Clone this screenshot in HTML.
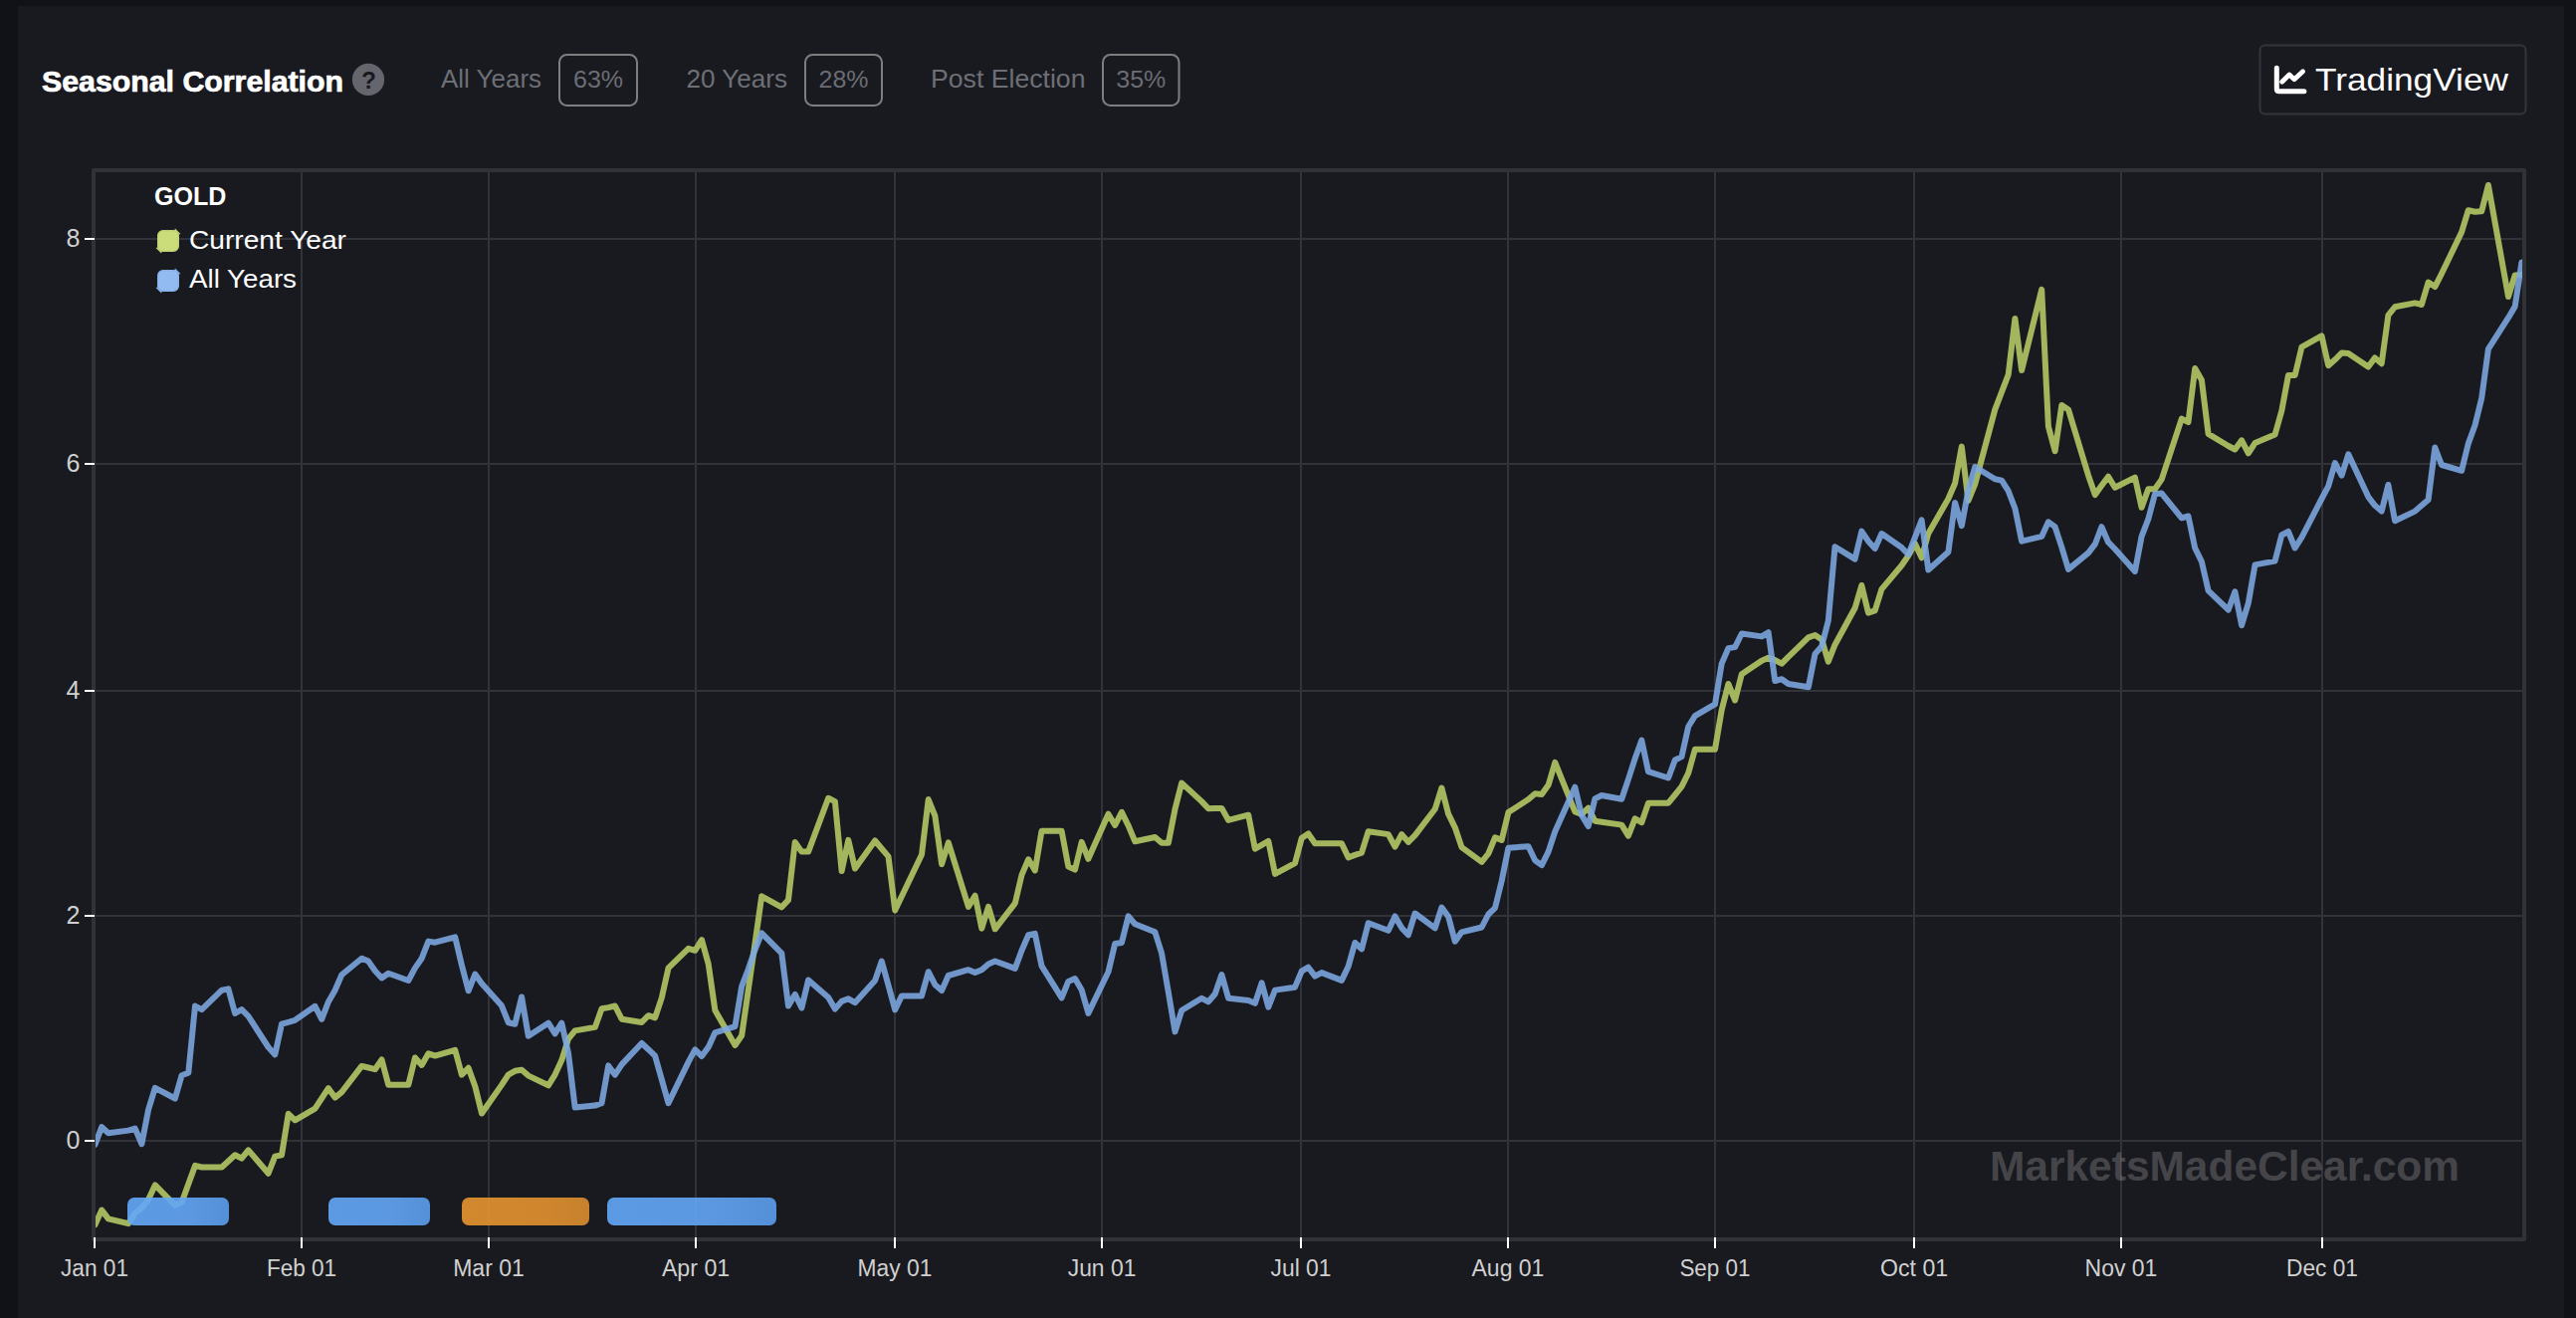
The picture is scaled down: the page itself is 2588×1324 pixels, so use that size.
<!DOCTYPE html>
<html><head><meta charset="utf-8"><title>Seasonal Correlation</title>
<style>html,body{margin:0;padding:0;background:#111217;overflow:hidden}svg{display:block}text{font-family:"Liberation Sans",sans-serif}</style>
</head><body>
<svg width="2588" height="1324" viewBox="0 0 2588 1324">
<rect x="0" y="0" width="2588" height="1324" fill="#111217"/>
<rect x="18" y="6" width="2558" height="1318" fill="#191a1f"/>
<text x="42" y="92" font-size="30" font-weight="bold" fill="#ffffff" stroke="#ffffff" stroke-width="0.7" textLength="303" lengthAdjust="spacingAndGlyphs">Seasonal Correlation</text>
<circle cx="370" cy="79.9" r="16.1" fill="#64656d"/>
<text x="370.5" y="89.2" font-size="24" font-weight="bold" fill="#191a1f" text-anchor="middle">?</text>
<text x="443" y="88.2" font-size="25" fill="#6d6f76" textLength="101" lengthAdjust="spacingAndGlyphs">All Years</text>
<rect x="562" y="55" width="78" height="51" rx="7.5" ry="7.5" fill="none" stroke="#7e7e80" stroke-width="2"/>
<text x="601.0" y="88" font-size="24" fill="#6b6d74" text-anchor="middle" textLength="50" lengthAdjust="spacingAndGlyphs">63%</text>
<text x="689.5" y="88.2" font-size="25" fill="#6d6f76" textLength="101.5" lengthAdjust="spacingAndGlyphs">20 Years</text>
<rect x="809" y="55" width="77" height="51" rx="7.5" ry="7.5" fill="none" stroke="#7e7e80" stroke-width="2"/>
<text x="847.5" y="88" font-size="24" fill="#6b6d74" text-anchor="middle" textLength="50" lengthAdjust="spacingAndGlyphs">28%</text>
<text x="935" y="88.2" font-size="25" fill="#6d6f76" textLength="155.5" lengthAdjust="spacingAndGlyphs">Post Election</text>
<rect x="1108" y="55" width="76.5" height="51" rx="7.5" ry="7.5" fill="none" stroke="#7e7e80" stroke-width="2"/>
<text x="1146.25" y="88" font-size="24" fill="#6b6d74" text-anchor="middle" textLength="50" lengthAdjust="spacingAndGlyphs">35%</text>
<rect x="2270.5" y="45.5" width="267" height="69" rx="5" ry="5" fill="none" stroke="#34353b" stroke-width="2"/>
<path d="M2287.3,68.3 V89.3 Q2287.3,91.8 2289.8,91.8 H2314.9" fill="none" stroke="#ffffff" stroke-width="5" stroke-linecap="round" stroke-linejoin="round"/>
<path d="M2292.6,82.2 L2300,75 L2305,79.8 L2313.6,71.8" fill="none" stroke="#ffffff" stroke-width="4.8" stroke-linecap="round" stroke-linejoin="round"/>
<text x="2326" y="91" font-size="32" fill="#ffffff" textLength="194" lengthAdjust="spacingAndGlyphs">TradingView</text>
<rect x="94" y="171" width="2442" height="1074" fill="none" stroke="#313238" stroke-width="4" stroke-linejoin="round"/>
<rect x="302.0" y="173" width="2" height="1070" fill="#323338"/>
<rect x="490.0" y="173" width="2" height="1070" fill="#323338"/>
<rect x="698.0" y="173" width="2" height="1070" fill="#323338"/>
<rect x="898.0" y="173" width="2" height="1070" fill="#323338"/>
<rect x="1106.0" y="173" width="2" height="1070" fill="#323338"/>
<rect x="1306.0" y="173" width="2" height="1070" fill="#323338"/>
<rect x="1514.0" y="173" width="2" height="1070" fill="#323338"/>
<rect x="1722.0" y="173" width="2" height="1070" fill="#323338"/>
<rect x="1922.0" y="173" width="2" height="1070" fill="#323338"/>
<rect x="2130.0" y="173" width="2" height="1070" fill="#323338"/>
<rect x="2332.0" y="173" width="2" height="1070" fill="#323338"/>
<rect x="96" y="1145.0" width="2438" height="2" fill="#323338"/>
<rect x="96" y="919.0" width="2438" height="2" fill="#323338"/>
<rect x="96" y="693.0" width="2438" height="2" fill="#323338"/>
<rect x="96" y="465.0" width="2438" height="2" fill="#323338"/>
<rect x="96" y="239.0" width="2438" height="2" fill="#323338"/>
<text x="1999" y="1186" font-size="43" font-weight="bold" fill="#ffffff" fill-opacity="0.2" textLength="472" lengthAdjust="spacingAndGlyphs">MarketsMadeClear.com</text>
<defs><clipPath id="pc"><rect x="96" y="173" width="2438" height="1070"/></clipPath></defs>
<g clip-path="url(#pc)">
<path d="M95.5,1230.3 L102.2,1215.6 L108.9,1224.4 L129.0,1229.2 L135.7,1218.5 L142.4,1213.3 L149.1,1204.9 L155.8,1190.4 L175.9,1210.8 L182.6,1207.8 L189.3,1189.4 L196.0,1170.9 L202.7,1172.5 L222.8,1172.5 L229.4,1166.5 L236.1,1160.3 L242.8,1163.6 L249.5,1155.4 L269.6,1178.7 L276.3,1161.6 L283.0,1160.3 L289.7,1118.9 L296.4,1125.3 L316.5,1113.6 L323.2,1103.3 L329.9,1093.2 L336.6,1102.6 L343.3,1097.1 L363.4,1070.9 L370.1,1072.5 L376.8,1074.2 L383.5,1064.5 L390.2,1089.7 L410.3,1089.7 L417.0,1062.5 L423.7,1069.9 L430.4,1058.3 L437.1,1060.6 L457.2,1054.8 L463.9,1079.6 L470.6,1072.8 L477.3,1091.3 L484.0,1118.5 L504.0,1089.9 L510.7,1079.6 L517.4,1075.8 L524.1,1074.8 L530.8,1080.6 L550.9,1090.3 L557.6,1079.6 L564.3,1065.1 L571.0,1043.7 L577.7,1035.4 L597.8,1031.9 L604.5,1013.3 L611.2,1012.1 L617.9,1010.5 L624.6,1023.7 L644.7,1027.0 L651.4,1020.2 L658.1,1022.4 L664.8,1002.4 L671.5,972.3 L691.6,952.8 L698.3,954.8 L705.0,944.1 L711.7,968.4 L718.4,1015.0 L738.5,1050.0 L745.2,1040.3 L751.9,993.6 L758.6,947.0 L765.2,900.3 L785.3,911.3 L792.0,904.1 L798.7,845.9 L805.4,855.6 L812.1,855.6 L832.2,801.8 L838.9,805.1 L845.6,875.0 L852.3,843.9 L859.0,872.5 L879.1,844.5 L885.8,852.5 L892.5,860.4 L899.2,914.4 L905.9,900.5 L926.0,858.5 L932.7,803.1 L939.4,819.6 L946.1,868.2 L952.8,846.4 L972.9,910.9 L979.6,899.7 L986.3,932.7 L993.0,910.9 L999.7,933.3 L1019.8,907.4 L1026.5,878.9 L1033.2,863.3 L1039.8,874.4 L1046.5,834.8 L1066.6,834.8 L1073.3,870.5 L1080.0,873.6 L1086.7,845.9 L1093.4,862.8 L1113.5,817.7 L1120.2,829.0 L1126.9,815.8 L1133.6,829.4 L1140.3,845.3 L1160.4,841.0 L1167.1,846.8 L1173.8,846.8 L1180.5,812.8 L1187.2,786.6 L1207.3,805.1 L1214.0,812.3 L1220.7,811.9 L1227.4,811.9 L1234.1,823.9 L1254.2,818.7 L1260.9,852.7 L1267.6,848.8 L1274.3,844.9 L1281.0,877.9 L1301.0,867.2 L1307.7,842.0 L1314.4,837.5 L1321.1,847.2 L1327.8,847.2 L1347.9,847.2 L1354.6,861.4 L1361.3,858.9 L1368.0,856.6 L1374.7,835.2 L1394.8,838.1 L1401.5,850.7 L1408.2,838.1 L1414.9,845.9 L1421.6,839.1 L1441.7,812.8 L1448.4,791.5 L1455.1,817.7 L1461.8,831.3 L1468.5,851.1 L1488.6,865.9 L1495.3,857.5 L1502.0,841.4 L1508.7,843.9 L1515.4,816.1 L1535.5,803.1 L1542.2,797.3 L1548.9,797.9 L1555.6,788.6 L1562.3,765.9 L1582.3,815.5 L1589.0,817.9 L1595.7,811.8 L1602.4,824.7 L1609.1,825.7 L1629.2,828.6 L1635.9,839.6 L1642.6,822.3 L1649.3,826.2 L1656.0,806.7 L1676.1,806.7 L1682.8,798.5 L1689.5,790.2 L1696.2,776.6 L1702.9,752.8 L1723.0,752.8 L1729.7,713.2 L1736.4,687.0 L1743.1,703.5 L1749.8,677.3 L1769.9,663.7 L1776.6,660.8 L1783.3,663.1 L1790.0,666.6 L1796.7,659.8 L1816.8,640.4 L1823.5,638.0 L1830.2,642.4 L1836.8,664.6 L1843.5,647.7 L1863.6,610.8 L1870.3,588.0 L1877.0,615.6 L1883.7,613.3 L1890.4,591.9 L1910.5,568.0 L1917.2,558.3 L1923.9,546.1 L1930.6,560.3 L1937.3,536.0 L1957.4,501.0 L1964.1,485.5 L1970.8,448.6 L1977.5,503.0 L1984.2,486.4 L2004.3,411.4 L2011.0,393.9 L2017.7,376.4 L2024.4,319.9 L2031.1,372.1 L2051.2,290.8 L2057.9,428.4 L2064.6,453.2 L2071.3,407.0 L2078.0,411.4 L2098.1,477.7 L2104.8,497.1 L2111.4,487.8 L2118.1,478.7 L2124.8,489.7 L2144.9,479.6 L2151.6,509.8 L2158.3,491.3 L2165.0,491.3 L2171.7,481.6 L2191.8,420.6 L2198.5,424.1 L2205.2,370.1 L2211.9,381.7 L2218.6,435.9 L2238.7,448.0 L2245.4,451.5 L2252.1,442.3 L2258.8,455.4 L2265.5,445.1 L2285.6,436.5 L2292.3,412.8 L2299.0,376.9 L2305.7,376.9 L2312.4,348.7 L2332.5,337.4 L2339.2,367.2 L2345.9,361.3 L2352.6,354.5 L2359.3,354.9 L2379.3,368.5 L2386.0,359.4 L2392.7,365.2 L2399.4,316.7 L2406.1,308.3 L2426.2,304.4 L2432.9,306.0 L2439.6,283.6 L2446.3,288.1 L2453.0,274.9 L2473.1,233.1 L2479.8,211.2 L2486.5,212.7 L2493.2,212.3 L2499.9,186.0 L2520.0,298.0 L2526.7,276.4 L2533.4,275.9" fill="none" stroke="#a3b65d" stroke-width="6" stroke-linejoin="round" stroke-linecap="round"/>
<path d="M95.5,1149.8 L102.2,1132.1 L108.9,1138.3 L129.0,1135.6 L135.7,1133.6 L142.4,1149.2 L149.1,1114.6 L155.8,1092.8 L175.9,1103.5 L182.6,1080.2 L189.3,1077.7 L196.0,1010.6 L202.7,1014.1 L222.8,994.7 L229.4,993.4 L236.1,1018.0 L242.8,1014.1 L249.5,1020.9 L269.6,1052.0 L276.3,1059.4 L283.0,1028.7 L289.7,1026.8 L296.4,1024.8 L316.5,1010.8 L323.2,1023.9 L329.9,1006.4 L336.6,994.7 L343.3,979.2 L363.4,962.7 L370.1,965.6 L376.8,975.3 L383.5,982.5 L390.2,977.8 L410.3,985.0 L417.0,972.4 L423.7,962.7 L430.4,945.6 L437.1,946.7 L457.2,941.3 L463.9,969.5 L470.6,995.3 L477.3,978.6 L484.0,987.9 L504.0,1010.3 L510.7,1027.2 L517.4,1028.7 L524.1,1001.5 L530.8,1040.8 L550.9,1027.7 L557.6,1038.4 L564.3,1027.7 L571.0,1057.8 L577.7,1112.6 L597.8,1110.6 L604.5,1108.2 L611.2,1070.4 L617.9,1079.7 L624.6,1069.4 L644.7,1048.0 L651.4,1054.2 L658.1,1060.7 L664.8,1084.4 L671.5,1108.2 L691.6,1066.9 L698.3,1054.4 L705.0,1061.0 L711.7,1051.9 L718.4,1037.3 L738.5,1031.1 L745.2,990.7 L751.9,973.2 L758.6,953.8 L765.2,937.3 L785.3,957.7 L792.0,1010.5 L798.7,998.9 L805.4,1012.5 L812.1,984.5 L832.2,1002.0 L838.9,1013.6 L845.6,1005.9 L852.3,1003.3 L859.0,1007.2 L879.1,984.9 L885.8,965.5 L892.5,989.8 L899.2,1014.4 L905.9,1000.4 L926.0,1000.4 L932.7,976.2 L939.4,989.2 L946.1,995.0 L952.8,980.0 L972.9,974.2 L979.6,977.1 L986.3,974.2 L993.0,968.4 L999.7,965.5 L1019.8,972.9 L1026.5,954.8 L1033.2,939.2 L1039.8,937.9 L1046.5,970.3 L1066.6,1002.4 L1073.3,985.9 L1080.0,983.0 L1086.7,994.6 L1093.4,1017.9 L1113.5,976.2 L1120.2,948.0 L1126.9,947.0 L1133.6,920.4 L1140.3,928.2 L1160.4,936.3 L1167.1,957.7 L1173.8,996.6 L1180.5,1036.4 L1187.2,1015.0 L1207.3,1002.8 L1214.0,1006.3 L1220.7,998.5 L1227.4,979.1 L1234.1,1002.8 L1254.2,1004.9 L1260.9,1007.8 L1267.6,987.4 L1274.3,1011.7 L1281.0,994.6 L1301.0,991.7 L1307.7,975.6 L1314.4,971.7 L1321.1,980.6 L1327.8,977.1 L1347.9,984.9 L1354.6,970.9 L1361.3,947.0 L1368.0,953.4 L1374.7,927.2 L1394.8,934.8 L1401.5,920.4 L1408.2,932.1 L1414.9,939.2 L1421.6,917.5 L1441.7,932.4 L1448.4,911.5 L1455.1,920.8 L1461.8,945.7 L1468.5,936.3 L1488.6,931.5 L1495.3,918.5 L1502.0,912.1 L1508.7,884.9 L1515.4,851.7 L1535.5,850.3 L1542.2,864.3 L1548.9,869.2 L1555.6,855.6 L1562.3,835.2 L1582.3,790.7 L1589.0,818.9 L1595.7,830.0 L1602.4,802.4 L1609.1,799.0 L1629.2,802.8 L1635.9,782.9 L1642.6,762.1 L1649.3,743.6 L1656.0,775.2 L1676.1,781.5 L1682.8,763.5 L1689.5,760.1 L1696.2,730.0 L1702.9,719.1 L1723.0,707.4 L1729.7,666.6 L1736.4,651.1 L1743.1,650.1 L1749.8,636.5 L1769.9,639.4 L1776.6,635.2 L1783.3,684.1 L1790.0,682.2 L1796.7,687.0 L1816.8,690.3 L1823.5,656.9 L1830.2,649.2 L1836.8,623.4 L1843.5,549.2 L1863.6,561.6 L1870.3,533.6 L1877.0,543.7 L1883.7,551.1 L1890.4,536.0 L1910.5,550.0 L1917.2,557.0 L1923.9,539.9 L1930.6,522.4 L1937.3,572.5 L1957.4,554.4 L1964.1,504.9 L1970.8,528.2 L1977.5,492.3 L1984.2,469.0 L2004.3,481.2 L2011.0,482.6 L2017.7,493.2 L2024.4,510.7 L2031.1,543.7 L2051.2,538.9 L2057.9,524.3 L2064.6,529.2 L2071.3,549.6 L2078.0,571.9 L2098.1,555.4 L2104.8,546.7 L2111.4,529.2 L2118.1,544.7 L2124.8,551.5 L2144.9,573.9 L2151.6,538.9 L2158.3,521.4 L2165.0,496.2 L2171.7,495.6 L2191.8,520.4 L2198.5,518.5 L2205.2,550.5 L2211.9,564.1 L2218.6,593.3 L2238.7,612.7 L2245.4,594.3 L2252.1,628.2 L2258.8,605.9 L2265.5,567.4 L2285.6,563.6 L2292.3,537.5 L2299.0,534.0 L2305.7,550.5 L2312.4,539.9 L2332.5,501.0 L2339.2,488.4 L2345.9,465.1 L2352.6,477.7 L2359.3,456.3 L2379.3,499.1 L2386.0,507.8 L2392.7,513.6 L2399.4,487.0 L2406.1,523.3 L2426.2,513.6 L2432.9,507.8 L2439.6,502.0 L2446.3,449.5 L2453.0,467.0 L2473.1,472.8 L2479.8,445.6 L2486.5,427.2 L2493.2,400.0 L2499.9,350.7 L2520.0,319.2 L2526.7,307.9 L2533.4,263.5" fill="none" stroke="#7ca7e3" stroke-opacity="0.88" stroke-width="6" stroke-linejoin="round" stroke-linecap="round"/>
</g>
<defs><linearGradient id="gb" x1="0" y1="0" x2="1" y2="0"><stop offset="0" stop-color="#63a8f9"/><stop offset="0.6" stop-color="#62a6f6"/><stop offset="1" stop-color="#5b9dec"/></linearGradient><linearGradient id="go" x1="0" y1="0" x2="1" y2="0"><stop offset="0" stop-color="#e6942f"/><stop offset="0.6" stop-color="#e4922f"/><stop offset="1" stop-color="#da8c2e"/></linearGradient></defs>
<rect x="128" y="1203" width="102" height="28" rx="7" ry="7" fill="url(#gb)" fill-opacity="0.9"/>
<rect x="330" y="1203" width="102" height="28" rx="7" ry="7" fill="url(#gb)" fill-opacity="0.9"/>
<rect x="464" y="1203" width="128" height="28" rx="7" ry="7" fill="url(#go)" fill-opacity="0.9"/>
<rect x="610" y="1203" width="170" height="28" rx="7" ry="7" fill="url(#gb)" fill-opacity="0.9"/>
<rect x="94.0" y="1243" width="2" height="11" fill="#ffffff"/>
<rect x="302.0" y="1243" width="2" height="11" fill="#ffffff"/>
<rect x="490.0" y="1243" width="2" height="11" fill="#ffffff"/>
<rect x="698.0" y="1243" width="2" height="11" fill="#ffffff"/>
<rect x="898.0" y="1243" width="2" height="11" fill="#ffffff"/>
<rect x="1106.0" y="1243" width="2" height="11" fill="#ffffff"/>
<rect x="1306.0" y="1243" width="2" height="11" fill="#ffffff"/>
<rect x="1514.0" y="1243" width="2" height="11" fill="#ffffff"/>
<rect x="1722.0" y="1243" width="2" height="11" fill="#ffffff"/>
<rect x="1922.0" y="1243" width="2" height="11" fill="#ffffff"/>
<rect x="2130.0" y="1243" width="2" height="11" fill="#ffffff"/>
<rect x="2332.0" y="1243" width="2" height="11" fill="#ffffff"/>
<rect x="85" y="1145.0" width="10" height="2" fill="#ffffff"/>
<rect x="85" y="919.0" width="10" height="2" fill="#ffffff"/>
<rect x="85" y="693.0" width="10" height="2" fill="#ffffff"/>
<rect x="85" y="465.0" width="10" height="2" fill="#ffffff"/>
<rect x="85" y="239.0" width="10" height="2" fill="#ffffff"/>
<text x="61.0" y="1282.2" font-size="23.5" fill="#d0d0d0" textLength="68.0" lengthAdjust="spacingAndGlyphs">Jan 01</text>
<text x="267.9" y="1282.2" font-size="23.5" fill="#d0d0d0" textLength="70.3" lengthAdjust="spacingAndGlyphs">Feb 01</text>
<text x="455.2" y="1282.2" font-size="23.5" fill="#d0d0d0" textLength="71.6" lengthAdjust="spacingAndGlyphs">Mar 01</text>
<text x="664.9" y="1282.2" font-size="23.5" fill="#d0d0d0" textLength="68.3" lengthAdjust="spacingAndGlyphs">Apr 01</text>
<text x="861.6" y="1282.2" font-size="23.5" fill="#d0d0d0" textLength="74.8" lengthAdjust="spacingAndGlyphs">May 01</text>
<text x="1072.7" y="1282.2" font-size="23.5" fill="#d0d0d0" textLength="68.7" lengthAdjust="spacingAndGlyphs">Jun 01</text>
<text x="1276.5" y="1282.2" font-size="23.5" fill="#d0d0d0" textLength="61.0" lengthAdjust="spacingAndGlyphs">Jul 01</text>
<text x="1478.5" y="1282.2" font-size="23.5" fill="#d0d0d0" textLength="72.9" lengthAdjust="spacingAndGlyphs">Aug 01</text>
<text x="1687.4" y="1282.2" font-size="23.5" fill="#d0d0d0" textLength="71.2" lengthAdjust="spacingAndGlyphs">Sep 01</text>
<text x="1889.0" y="1282.2" font-size="23.5" fill="#d0d0d0" textLength="68.1" lengthAdjust="spacingAndGlyphs">Oct 01</text>
<text x="2094.6" y="1282.2" font-size="23.5" fill="#d0d0d0" textLength="72.8" lengthAdjust="spacingAndGlyphs">Nov 01</text>
<text x="2297.1" y="1282.2" font-size="23.5" fill="#d0d0d0" textLength="71.9" lengthAdjust="spacingAndGlyphs">Dec 01</text>
<text x="80.5" y="1154.0" font-size="25" fill="#d0d0d0" text-anchor="end">0</text>
<text x="80.5" y="928.0" font-size="25" fill="#d0d0d0" text-anchor="end">2</text>
<text x="80.5" y="702.0" font-size="25" fill="#d0d0d0" text-anchor="end">4</text>
<text x="80.5" y="474.0" font-size="25" fill="#d0d0d0" text-anchor="end">6</text>
<text x="80.5" y="248.0" font-size="25" fill="#d0d0d0" text-anchor="end">8</text>
<text x="155" y="205.7" font-size="26" font-weight="bold" fill="#ffffff" textLength="72.5" lengthAdjust="spacingAndGlyphs">GOLD</text>
<path d="M176,229.5 L181.5,235 L178,236 L175,232 Z M156.5,249 L162,254.5 L163.5,251 L160,248 Z" fill="#bccd70"/>
<rect x="158.75" y="231.75" width="20.5" height="20.5" rx="5" ry="5" fill="#cbdc7b" stroke="#c0d074" stroke-width="1.5"/>
<text x="190" y="250" font-size="25" fill="#ffffff" textLength="158" lengthAdjust="spacingAndGlyphs">Current Year</text>
<path d="M176,269.5 L181.5,275 L178,276 L175,272 Z M156.5,289 L162,294.5 L163.5,291 L160,288 Z" fill="#82abdd"/>
<rect x="158.75" y="271.75" width="20.5" height="20.5" rx="5" ry="5" fill="#92bbf2" stroke="#88b1e6" stroke-width="1.5"/>
<text x="190" y="289" font-size="25" fill="#ffffff" textLength="108" lengthAdjust="spacingAndGlyphs">All Years</text>
</svg></body></html>
